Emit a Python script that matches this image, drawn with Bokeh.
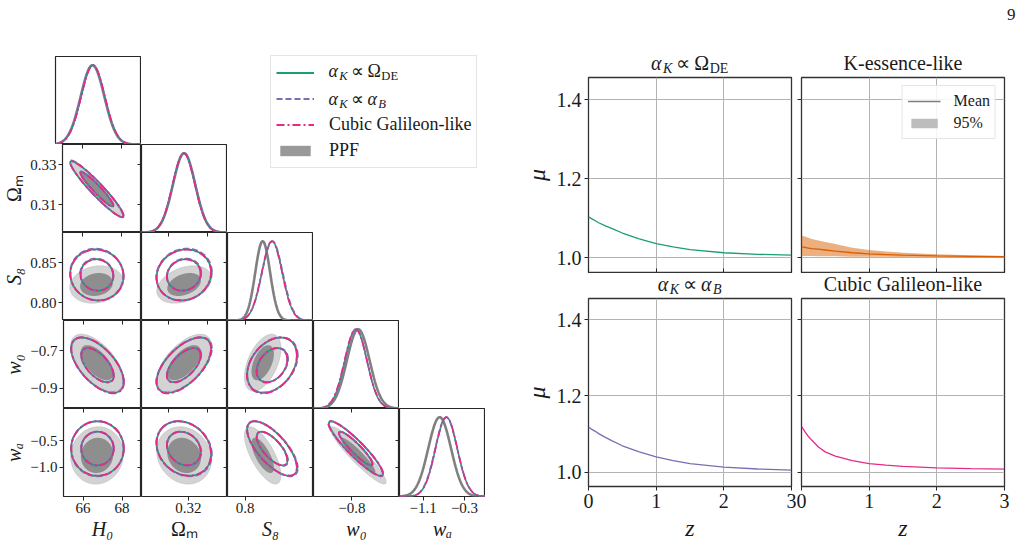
import math
import numpy as np
from bokeh.plotting import figure
from bokeh.models import (Range1d, LinearAxis, FixedTicker, CustomJSTickFormatter,
                          Label, Legend, LegendItem, Spacer)
from bokeh.core.properties import value
from bokeh.layouts import row, column
from bokeh.embed import file_html
from bokeh.resources import INLINE

SERIF = "Liberation Serif"
INK = "#1a1a1a"
SPINE = "#262626"
NAN = float("nan")
BASE_SHIFT = 0.37  # lift (in em) that puts a Label's glyph baseline on its anchor

# ---------------- posterior summaries for the triangle plot ----------------
PARAM_LABELS = ["H₀", "Ωₘ", "S₈", "w₀", "wₐ"]
LABEL_STYLES = ["italic", "normal", "italic", "italic", "italic"]
PARAM_RANGES = [(65.0, 69.0), (0.296, 0.340), (0.7775, 0.8875), (-1.009, -0.540), (-1.555, 0.105)]
TICKS_BOTTOM = [[66, 68], [0.32], [0.8], [-0.8], [-1.1, -0.3]]
TICKS_INNER_X = [[66, 68], [0.31, 0.33], [0.8], [-0.8], []]
TICKS_Y = [[], [0.31, 0.33], [0.80, 0.85], [-0.9, -0.7], [-1.0, -0.5]]
DIGITS_X = [0, 2, 1, 1, 1]
DIGITS_Y = [0, 2, 2, 1, 1]

MEAN_PPF = [66.72, 0.3178, 0.8225, -0.765, -0.780]
STD_PPF = [0.55, 0.0057, 0.0095, 0.062, 0.220]
MEAN_ODE = [66.74, 0.3177, 0.8345, -0.778, -0.650]
STD_ODE = [0.55, 0.0057, 0.0130, 0.060, 0.210]
MEAN_AB = [66.73, 0.3178, 0.8350, -0.777, -0.655]
STD_AB = [0.55, 0.0058, 0.0132, 0.060, 0.212]
MEAN_CG = [66.75, 0.3176, 0.8343, -0.779, -0.648]
STD_CG = [0.55, 0.0057, 0.0130, 0.061, 0.210]

CORR_PPF = [
    [1.00, -0.95, 0.15, -0.60, 0.05],
    [-0.95, 1.00, 0.35, 0.60, -0.15],
    [0.15, 0.35, 1.00, 0.50, -0.70],
    [-0.60, 0.60, 0.50, 1.00, -0.93],
    [0.05, -0.15, -0.70, -0.93, 1.00],
]
CORR_MG = [
    [1.00, -0.95, -0.05, -0.60, 0.00],
    [-0.95, 1.00, 0.10, 0.60, -0.20],
    [-0.05, 0.10, 1.00, 0.35, -0.70],
    [-0.60, 0.60, 0.35, 1.00, -0.92],
    [0.00, -0.20, -0.70, -0.92, 1.00],
]

GREEN, PURPLE, MAGENTA, ORANGE, GRAY = "#1b9e77", "#7570b3", "#e7298a", "#d95f02", "#808080"
MG_MODELS = [
    (MEAN_ODE, STD_ODE, GREEN, "solid"),
    (MEAN_AB, STD_AB, PURPLE, "6 3"),
    (MEAN_CG, STD_CG, MAGENTA, "8 3 2 3"),
]
CONTOUR_LEVELS = [0.68, 0.95]

# ---------------- mu(z) reconstructions ----------------
Z = [0.0, 0.05, 0.1, 0.15, 0.25, 0.35, 0.5, 0.75, 1.0, 1.25, 1.5, 2.0, 2.5, 3.0]
MU_ODE = [1.103, 1.098, 1.093, 1.088, 1.080, 1.073, 1.062, 1.047, 1.035, 1.027, 1.020, 1.012, 1.008, 1.006]
MU_AB = [1.118, 1.112, 1.107, 1.101, 1.091, 1.082, 1.069, 1.053, 1.040, 1.030, 1.022, 1.013, 1.008, 1.005]
MU_CG = [1.120, 1.106, 1.094, 1.084, 1.066, 1.053, 1.042, 1.030, 1.022, 1.018, 1.015, 1.011, 1.009, 1.0076]
MU_KESS = [1.027, 1.0255, 1.024, 1.0225, 1.021, 1.019, 1.016, 1.012, 1.009, 1.0075, 1.006, 1.004, 1.003, 1.002]
MU_KESS_HI = [1.056, 1.053, 1.050, 1.047, 1.043, 1.039, 1.034, 1.025, 1.019, 1.015, 1.012, 1.008, 1.006, 1.004]
MU_KESS_LO = [1.004, 1.004, 1.004, 1.004, 1.003, 1.003, 1.003, 1.002, 1.002, 1.002, 1.001, 1.001, 1.000, 1.000]
MU_RANGE = (0.962, 1.456)
MU_TICKS = [1.0, 1.2, 1.4]
Z_TICKS = [0, 1, 2, 3]

# (text, advance in em, italic, subscript)
TITLE_ODE = [("α", 0.60, True, False), ("K", 0.72, True, True), ("", 0.16, False, False),
             ("∝", 0.80, False, False), ("", 0.10, False, False), ("Ω", 0.77, False, False),
             ("DE", 1.37, False, True)]
TITLE_AB = [("α", 0.60, True, False), ("K", 0.72, True, True), ("", 0.16, False, False),
            ("∝", 0.80, False, False), ("", 0.10, False, False), ("α", 0.60, True, False),
            ("B", 0.65, True, True)]


def fmt(digits):
    return CustomJSTickFormatter(code=f"return tick.toFixed({digits}).replace('-', '\\u2212');")


def text_at(p, x, y, text, size, align="left", dx=0.0, drop=0.0, italic=False):
    p.add_layout(Label(x=x, y=y, x_offset=dx, y_offset=BASE_SHIFT * size - drop,
                       text=text, text_font=SERIF, text_font_size=f"{size:.1f}px",
                       text_font_style="italic" if italic else "normal",
                       text_baseline="alphabetic", text_align=align, text_color=INK))


def math_text(p, x, y, parts, size, center=False, drop=3.0):
    total = sum(w * size * (0.7 if sub else 1.0) for _, w, _, sub in parts)
    cursor = -total / 2 if center else 0.0
    for text, w, italic, sub in parts:
        s = size * 0.7 if sub else size
        if text:
            text_at(p, x, y, text, s, dx=cursor, drop=drop if sub else 0.0, italic=italic)
        cursor += w * s


def gauss(lo, hi, m, s):
    x = np.linspace(lo, hi, 240)
    return x, np.exp(-0.5 * ((x - m) / s) ** 2)


def ellipse(mx, my, sx, sy, rho, level):
    k = math.sqrt(-2.0 * math.log(1.0 - level))
    t = np.linspace(0, 2 * np.pi, 200)
    u, v = k * np.cos(t), k * np.sin(t)
    return mx + sx * u, my + sy * (rho * u + math.sqrt(1 - rho * rho) * v)


def hide_labels(ax):
    ax.major_label_text_font_size = "0px"
    ax.major_label_text_color = None
    ax.major_label_standoff = 0


def add_axis(p, side, ticks, digits, labels, outward, label=None, style="italic", size=15):
    ax = LinearAxis(ticker=FixedTicker(ticks=ticks))
    ax.axis_line_color = None
    ax.minor_tick_line_color = None
    ax.major_tick_line_color = SPINE
    ax.major_tick_line_width = 1
    ax.major_tick_out = 4 if outward else 0
    ax.major_tick_in = 0 if outward else 4
    if labels:
        ax.formatter = fmt(digits)
        ax.major_label_text_font = SERIF
        ax.major_label_text_font_size = f"{size}px"
        ax.major_label_text_color = INK
        ax.major_label_standoff = 2
    else:
        hide_labels(ax)
    if label:
        ax.axis_label = label
        ax.axis_label_text_font = SERIF
        ax.axis_label_text_font_size = "20px"
        ax.axis_label_text_font_style = style
        ax.axis_label_text_color = INK
        ax.axis_label_standoff = 2
    p.add_layout(ax, side)


def blank(width, height):
    """Axis-less canvas whose data units are pixels."""
    s = figure(width=width, height=height, x_range=Range1d(0, width), y_range=Range1d(0, height),
               output_backend="svg", toolbar_location=None,
               x_axis_location=None, y_axis_location=None,
               min_border_left=0, min_border_right=0, min_border_top=0, min_border_bottom=0,
               outline_line_color=None, background_fill_color="white", border_fill_color="white")
    s.grid.visible = False
    return s


def corner_panel(r, c):
    left = 55 if c == 0 else 0
    top = 56 if r == 0 else 0
    bottom = 47 if r == 4 else 0
    yr = PARAM_RANGES[r] if c < r else (0.0, 1.11)
    p = figure(width=86 + left, height=88 + top + bottom,
               x_range=Range1d(*PARAM_RANGES[c]), y_range=Range1d(*yr),
               output_backend="svg", toolbar_location=None,
               x_axis_location=None, y_axis_location=None,
               min_border_left=left, min_border_right=0, min_border_top=top, min_border_bottom=bottom,
               outline_line_color=SPINE, outline_line_width=1.2,
               background_fill_color="white", border_fill_color="white")
    p.grid.visible = False

    if c == r:
        x, y = gauss(*PARAM_RANGES[c], MEAN_PPF[c], STD_PPF[c])
        p.line(x, y, color=GRAY, line_width=2.6)
        for mean, std, col, dash in MG_MODELS:
            x, y = gauss(*PARAM_RANGES[c], mean[c], std[c])
            p.line(x, y, color=col, line_width=1.6, line_dash=dash)
    else:
        fills = {0.95: "#d3d3d3", 0.68: "#8e8e8e"}
        for lev in sorted(CONTOUR_LEVELS, reverse=True):
            xs, ys = ellipse(MEAN_PPF[c], MEAN_PPF[r], STD_PPF[c], STD_PPF[r], CORR_PPF[c][r], lev)
            p.patch(xs, ys, fill_color=fills[lev], line_color="#c2c2c2" if lev == 0.95 else None,
                    line_width=0.8)
        for mean, std, col, dash in MG_MODELS:
            for lev in CONTOUR_LEVELS:
                xs, ys = ellipse(mean[c], mean[r], std[c], std[r], CORR_MG[c][r], lev)
                p.line(xs, ys, color=col, line_width=1.8, line_dash=dash)

    # axes: labelled on the outer edges, short inward ticks elsewhere
    if r == 4:
        add_axis(p, "below", TICKS_BOTTOM[c], DIGITS_X[c], True, True,
                 label=PARAM_LABELS[c], style=LABEL_STYLES[c])
    if c < r:
        add_axis(p, "above", TICKS_INNER_X[c], DIGITS_X[c], False, False)
        add_axis(p, "right", TICKS_Y[r], DIGITS_Y[r], False, False)
    if c == 0 and r >= 1:
        add_axis(p, "left", TICKS_Y[r], DIGITS_Y[r], True, True,
                 label=PARAM_LABELS[r], style=LABEL_STYLES[r])
    return p


panels = {(r, c): corner_panel(r, c) for r in range(5) for c in range(r + 1)}

# legend for the triangle plot
leg_fig = blank(273, 232)
g1 = leg_fig.line([NAN], [NAN], color=GREEN, line_width=2)
g2 = leg_fig.line([NAN], [NAN], color=PURPLE, line_width=2, line_dash="6 3")
g3 = leg_fig.line([NAN], [NAN], color=MAGENTA, line_width=2, line_dash="8 3 2 3")
g4 = leg_fig.quad(left=[NAN], right=[NAN], top=[NAN], bottom=[NAN], fill_color="#999999", line_color=None)
tri_legend = Legend(items=[LegendItem(label=value(" "), renderers=[g1]),
                           LegendItem(label=value(" "), renderers=[g2]),
                           LegendItem(label=value("Cubic Galileon-like"), renderers=[g3]),
                           LegendItem(label=value("PPF"), renderers=[g4])],
                    location=(43, 64), margin=0, padding=5, spacing=3,
                    glyph_width=38, glyph_height=13, label_height=23, label_standoff=15,
                    label_text_font=SERIF, label_text_font_size="18px", label_text_color=INK,
                    border_line_color="#cccccc", border_line_width=1,
                    background_fill_color=None)
leg_fig.add_layout(tri_legend)
math_text(leg_fig, 101, 155, TITLE_ODE, 18)
math_text(leg_fig, 101, 127, TITLE_AB, 18)

left_block = column(
    row(column(panels[(0, 0)], row(panels[(1, 0)], panels[(1, 1)])), leg_fig),
    row(*[panels[(2, c)] for c in range(3)], Spacer(width=187, height=88)),
    row(*[panels[(3, c)] for c in range(4)], Spacer(width=101, height=88)),
    row(*[panels[(4, c)] for c in range(5)], Spacer(width=15, height=135)),
)


# ---------------- mu(z) panels ----------------
def mu_panel(first_col, top_row):
    left = 88 if first_col else 5
    right = 5 if first_col else 17
    bottom = 1 if top_row else 53
    frame_h = 195 if top_row else 192
    p = figure(width=left + 203 + right, height=1 + frame_h + bottom,
               x_range=Range1d(0, 3), y_range=Range1d(*MU_RANGE),
               output_backend="svg", toolbar_location=None,
               min_border_left=left, min_border_right=right, min_border_top=1, min_border_bottom=bottom,
               outline_line_color="#333333", outline_line_width=1.3,
               background_fill_color="white", border_fill_color="white")
    for ax, ticks, digits, show, lab in ((p.xaxis[0], Z_TICKS, 0, not top_row, "z"),
                                         (p.yaxis[0], MU_TICKS, 1, first_col, "μ")):
        ax.ticker = FixedTicker(ticks=ticks)
        ax.axis_line_color = None
        ax.minor_tick_line_color = None
        ax.major_tick_line_color = SPINE
        ax.major_tick_out = 4
        ax.major_tick_in = 0
        if show:
            ax.formatter = fmt(digits)
            ax.major_label_text_font = SERIF
            ax.major_label_text_font_size = "20px"
            ax.major_label_text_color = INK
            ax.major_label_standoff = 3
            ax.axis_label = lab
            ax.axis_label_text_font = SERIF
            ax.axis_label_text_font_size = "24px"
            ax.axis_label_text_font_style = "italic"
            ax.axis_label_text_color = INK
            ax.axis_label_standoff = 4
        else:
            hide_labels(ax)
    if top_row:
        # shared z axis: ticks only, pointing into the frame
        p.xaxis.major_tick_out = 0
        p.xaxis.major_tick_in = 4
    p.xgrid.ticker = FixedTicker(ticks=Z_TICKS)
    p.ygrid.ticker = FixedTicker(ticks=MU_TICKS)
    p.grid.grid_line_color = "#b3b3b3"
    p.grid.grid_line_width = 1
    return p


pa = mu_panel(True, True)
pa.line(Z, MU_ODE, color=GREEN, line_width=1.3)

pb = mu_panel(False, True)
pb.varea(x=Z, y1=MU_KESS_LO, y2=MU_KESS_HI, fill_color=ORANGE, fill_alpha=0.5)
pb.line(Z, MU_KESS, color=ORANGE, line_width=1.3)
k1 = pb.line([NAN], [NAN], color=GRAY, line_width=1.5)
k2 = pb.quad(left=[NAN], right=[NAN], top=[NAN], bottom=[NAN], fill_color="#bdbdbd", line_color=None)
pb.add_layout(Legend(items=[LegendItem(label=value("Mean"), renderers=[k1]),
                            LegendItem(label=value("95%"), renderers=[k2])],
                     location="top_right", margin=8, padding=5, spacing=2,
                     glyph_width=33, glyph_height=12, label_height=20, label_standoff=13,
                     label_text_font=SERIF, label_text_font_size="16px", label_text_color=INK,
                     border_line_color="#cccccc", border_line_width=1, background_fill_alpha=0.85))

pc = mu_panel(True, False)
pc.line(Z, MU_AB, color=PURPLE, line_width=1.3)

pd = mu_panel(False, False)
pd.line(Z, MU_CG, color=MAGENTA, line_width=1.3)

# title strips spanning both columns (pixel units, origin at the strip's bottom-left)
strip_top = blank(521, 76)
math_text(strip_top, 189.5, 6, TITLE_ODE, 20, center=True)
text_at(strip_top, 402.5, 6, "K-essence-like", 20, align="center")
text_at(strip_top, 515, 56, "9", 17, align="right")

strip_mid = blank(521, 24)
math_text(strip_mid, 189.5, 6, TITLE_AB, 20, center=True)
text_at(strip_mid, 402.5, 6, "Cubic Galileon-like", 20, align="center")

right_block = column(strip_top, row(pa, pb), strip_mid, row(pc, pd))
layout = row(left_block, right_block)

open("out.html", "w").write(file_html(layout, INLINE))
